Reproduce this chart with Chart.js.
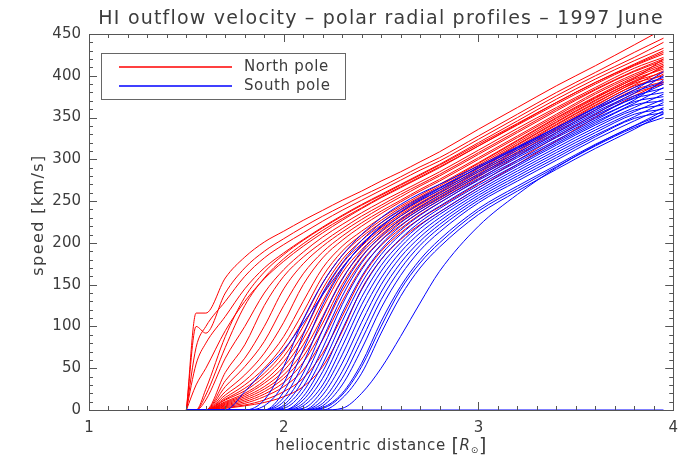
<!DOCTYPE html>
<html>
<head>
<meta charset="utf-8">
<script src="https://cdn.jsdelivr.net/npm/chart.js@4.4.1/dist/chart.umd.min.js"></script>
<style>
html, body { margin: 0; padding: 0; background: #fff; }
#wrap { width: 687px; height: 459px; }
</style>
</head>
<body>
<div id="wrap"><canvas id="chart" width="687" height="459"></canvas></div>
<script>
// heliocentric distance grid [R_sun]
var distance = [1.5, 1.55, 1.6, 1.7, 1.8, 1.9, 2.0, 2.1, 2.2, 2.3, 2.4, 2.5, 2.6, 2.7, 2.8, 3.0, 3.2, 3.4, 3.6, 3.8, 3.95];

// north pole profiles, speed [km/s]
var northPole = [
  [0,116,116,158,183,201,214,227,239,251,262,274,285,297,309,336,362,388,412,437,456],
  [0,100,92,140,170,190,205,219,232,244,256,267,279,291,302,328,354,380,404,428,445],
  [0,75,100,130,160,182,198,212,226,239,251,263,275,287,298,324,350,376,400,422,440],
  [0,55,80,112,145,170,188,204,219,233,246,258,270,282,294,320,346,372,396,418,433],
  [0,30,50,95,130,157,178,196,212,227,241,254,266,278,290,316,342,368,392,413,428],
  [0,0,25,88,135,165,186,203,218,232,245,257,269,281,293,318,343,368,392,414,430],
  [0,0,18,75,125,158,181,199,215,229,242,255,267,279,291,316,341,366,390,412,426],
  [0,0,12,62,100,140,168,189,207,222,236,249,261,273,285,311,337,362,386,409,422],
  [0,0,0,45,78,125,160,183,201,217,232,245,258,270,282,308,334,360,384,406,420],
  [0,0,0,35,62,100,145,175,196,213,228,242,255,268,280,306,332,358,383,405,418],
  [0,0,0,28,52,82,125,163,189,208,224,238,251,264,276,302,328,354,380,402,416],
  [0,0,0,22,42,68,105,150,182,203,220,235,249,262,274,300,326,352,378,400,414],
  [0,0,0,18,35,58,88,130,170,196,214,230,244,257,270,296,323,350,375,398,412],
  [0,0,0,15,30,50,78,117,160,190,210,227,242,255,268,295,322,349,374,397,420],
  [0,0,0,13,26,44,70,108,152,185,207,224,239,253,266,293,320,347,373,396,408],
  [0,0,0,12,23,40,64,100,145,180,203,221,236,250,263,291,318,345,371,394,410],
  [0,0,0,10,20,35,58,92,138,175,199,218,234,248,261,289,317,344,370,393,404],
  [0,0,0,9,18,32,52,85,130,170,196,216,232,246,259,287,315,342,368,392,412],
  [0,0,0,8,16,28,47,78,122,164,192,213,229,244,257,285,313,341,367,391,400],
  [0,0,0,7,14,25,42,70,112,157,188,210,227,242,255,283,311,339,365,389,406],
  [0,0,0,6,12,22,38,64,104,150,184,207,225,240,253,281,309,337,364,388,396],
  [0,0,0,5,10,19,33,57,96,142,178,203,221,237,251,279,307,335,362,386,402],
  [0,0,0,4,8,16,28,48,84,130,170,197,217,234,248,276,304,332,359,383,393],
  [0,0,0,3,6,12,22,38,68,112,158,190,212,229,243,271,299,327,354,379,390],
  [0,0,0,2,5,9,16,28,52,94,145,180,204,222,237,266,294,322,350,376,392]
];

// south pole profiles, speed [km/s]
var southPole = [
  [0,0,0,0,0,0,0,0,0,0,0,0,0,0,0,0,0,0,0,0,0],
  [0,0,0,0,22,48,72,104,138,170,197,219,237,252,265,290,314,338,362,386,398],
  [0,0,0,0,0,12,52,108,152,185,210,230,246,259,270,292,315,338,361,383,405],
  [0,0,0,0,0,5,32,90,140,176,203,224,240,254,266,290,313,336,359,381,392],
  [0,0,0,0,0,0,22,72,126,168,198,220,237,251,263,287,311,334,357,379,400],
  [0,0,0,0,0,0,15,56,110,156,190,214,232,247,260,285,308,332,355,376,385],
  [0,0,0,0,0,0,10,44,96,146,183,208,228,243,257,282,306,330,353,374,390],
  [0,0,0,0,0,0,6,36,85,136,176,203,224,240,254,280,304,328,351,373,380],
  [0,0,0,0,0,0,4,28,74,126,168,198,220,237,251,277,302,326,349,371,395],
  [0,0,0,0,0,0,2,22,64,116,160,192,215,233,248,275,299,323,347,369,375],
  [0,0,0,0,0,0,0,16,55,106,152,186,210,229,244,272,297,321,345,367,386],
  [0,0,0,0,0,0,0,12,46,96,144,180,205,225,241,269,294,319,343,365,370],
  [0,0,0,0,0,0,0,8,38,86,135,173,200,221,237,266,292,317,341,362,378],
  [0,0,0,0,0,0,0,5,30,76,126,166,195,217,234,263,289,314,338,359,365],
  [0,0,0,0,0,0,0,2,24,66,116,158,189,212,230,260,286,311,335,357,372],
  [0,0,0,0,0,0,0,0,18,56,105,150,183,207,226,257,283,308,332,354,360],
  [0,0,0,0,0,0,0,0,12,46,94,141,176,202,222,254,280,305,329,351,368],
  [0,0,0,0,0,0,0,0,8,38,84,132,169,197,218,251,277,302,327,349,356],
  [0,0,0,0,0,0,0,0,5,30,73,122,161,191,213,248,274,299,324,346,362],
  [0,0,0,0,0,0,0,0,3,20,56,106,148,180,204,241,268,293,318,340,358],
  [0,0,0,0,0,0,0,0,2,18,52,100,144,176,200,238,265,291,316,338,350],
  [0,0,0,0,0,0,0,0,0,14,44,92,136,170,195,234,262,288,313,336,355],
  [0,0,0,0,0,0,0,0,0,2,20,50,88,128,166,220,258,290,317,340,354]
];

var legendLabels = ['North pole', 'South pole'];
var poleColors = ['#ff0000', '#0000ff'];

var FONT = 'DejaVu Sans';
var INK = '#3c3c3c';

function profileSet(list, label, color) {
  return list.map(function (vals, k) {
    return {
      label: label + ' ' + (k + 1),
      data: distance.map(function (d, i) { return { x: d, y: vals[i] }; }),
      borderColor: color,
      borderWidth: 1,
      pointRadius: 0,
      fill: false,
      cubicInterpolationMode: 'monotone',
      clip: { left: 2, top: 0, right: 2, bottom: 3 }
    };
  });
}

// south drawn on top, like the original plot
var datasets = profileSet(southPole, legendLabels[1], poleColors[1])
  .concat(profileSet(northPole, legendLabels[0], poleColors[0]));

function spacedText(ctx, text, x, y, spacing) {
  ctx.letterSpacing = spacing + 'px';
  ctx.fillText(text, x, y);
  ctx.letterSpacing = '0px';
}

var idlFrame = {
  id: 'idlFrame',
  afterDatasetsDraw: function (chart) {
    var ctx = chart.ctx, a = chart.chartArea;
    var xs = chart.scales.x, ys = chart.scales.y;
    ctx.save();
    ctx.strokeStyle = '#555';
    ctx.lineWidth = 1;
    ctx.strokeRect(Math.round(a.left) + 0.5, Math.round(a.top) + 0.5,
      Math.round(a.right - a.left), Math.round(a.bottom - a.top));
    ctx.beginPath();
    var i, px, len;
    for (i = 0; i <= 30; i++) {
      px = Math.round(xs.getPixelForValue(1 + i / 10)) + 0.5;
      len = (i % 10 === 0) ? 8 : 4;
      ctx.moveTo(px, a.bottom); ctx.lineTo(px, a.bottom - len);
      ctx.moveTo(px, a.top); ctx.lineTo(px, a.top + len);
    }
    for (i = 0; i <= 45; i++) {
      px = Math.round(ys.getPixelForValue(i * 10)) + 0.5;
      len = (i % 5 === 0) ? 8 : 4;
      ctx.moveTo(a.left, px); ctx.lineTo(a.left + len, px);
      ctx.moveTo(a.right, px); ctx.lineTo(a.right - len, px);
    }
    ctx.stroke();

    // legend box
    ctx.strokeStyle = '#666';
    ctx.strokeRect(101.5, 53.5, 244, 46);
    ctx.font = '15px "' + FONT + '"';
    ctx.textBaseline = 'middle';
    ctx.textAlign = 'left';
    ctx.lineWidth = 1.3;
    ctx.strokeStyle = poleColors[0];
    ctx.beginPath(); ctx.moveTo(119, 67); ctx.lineTo(232, 67); ctx.stroke();
    ctx.strokeStyle = poleColors[1];
    ctx.beginPath(); ctx.moveTo(119, 86); ctx.lineTo(232, 86); ctx.stroke();
    ctx.fillStyle = INK;
    spacedText(ctx, legendLabels[0], 244, 67, 0.6);
    spacedText(ctx, legendLabels[1], 244, 86, 0.6);

    // title
    var cx = (a.left + a.right) / 2;
    ctx.textAlign = 'center';
    ctx.textBaseline = 'alphabetic';
    ctx.font = '19px "' + FONT + '"';
    spacedText(ctx, 'HI outflow velocity \u2013 polar radial profiles \u2013 1997 June', cx, 24, 1.2);

    // y axis title
    ctx.save();
    ctx.translate(43, 215);
    ctx.rotate(-Math.PI / 2);
    ctx.font = '16px "' + FONT + '"';
    spacedText(ctx, 'speed [km/s]', 0, 0, 1.4);
    ctx.restore();

    // x axis title with R_sun
    ctx.letterSpacing = '0.7px';
    var parts = [
      { t: 'heliocentric distance ', f: '15px "' + FONT + '"', dy: 0 },
      { t: '[', f: '19px "' + FONT + '"', dy: 2 },
      { t: 'R', f: 'italic 15px "' + FONT + '"', dy: 0 },
      { t: '\u2299', f: '9px "' + FONT + '"', dy: 3 },
      { t: ']', f: '19px "' + FONT + '"', dy: 2 }
    ];
    var total = 0;
    parts.forEach(function (p) { ctx.font = p.f; p.w = ctx.measureText(p.t).width; total += p.w; });
    var x0 = cx - total / 2;
    ctx.textAlign = 'left';
    parts.forEach(function (p) {
      ctx.font = p.f;
      ctx.fillText(p.t, x0, 450 + p.dy);
      x0 += p.w;
    });
    ctx.letterSpacing = '0px';
    ctx.restore();
  }
};

new Chart(document.getElementById('chart'), {
  type: 'line',
  data: { datasets: datasets },
  options: {
    responsive: false,
    animation: false,
    events: [],
    layout: { padding: { top: 34, right: 9, bottom: 0, left: 0 } },
    plugins: { legend: { display: false }, tooltip: { enabled: false }, title: { display: false } },
    scales: {
      x: {
        type: 'linear', min: 1, max: 4,
        grid: { display: false, drawTicks: false },
        border: { display: false },
        ticks: { stepSize: 1, padding: 9, color: INK, font: { family: FONT, size: 15 },
          callback: function (v) { return String(v); } },
        afterFit: function (s) { s.height = 49; }
      },
      y: {
        min: 0, max: 450,
        grid: { display: false, drawTicks: false },
        border: { display: false },
        ticks: { stepSize: 50, padding: 8, color: INK, font: { family: FONT, size: 15 } },
        afterFit: function (s) { s.width = 89; }
      }
    }
  },
  plugins: [idlFrame]
});
</script>
</body>
</html>
